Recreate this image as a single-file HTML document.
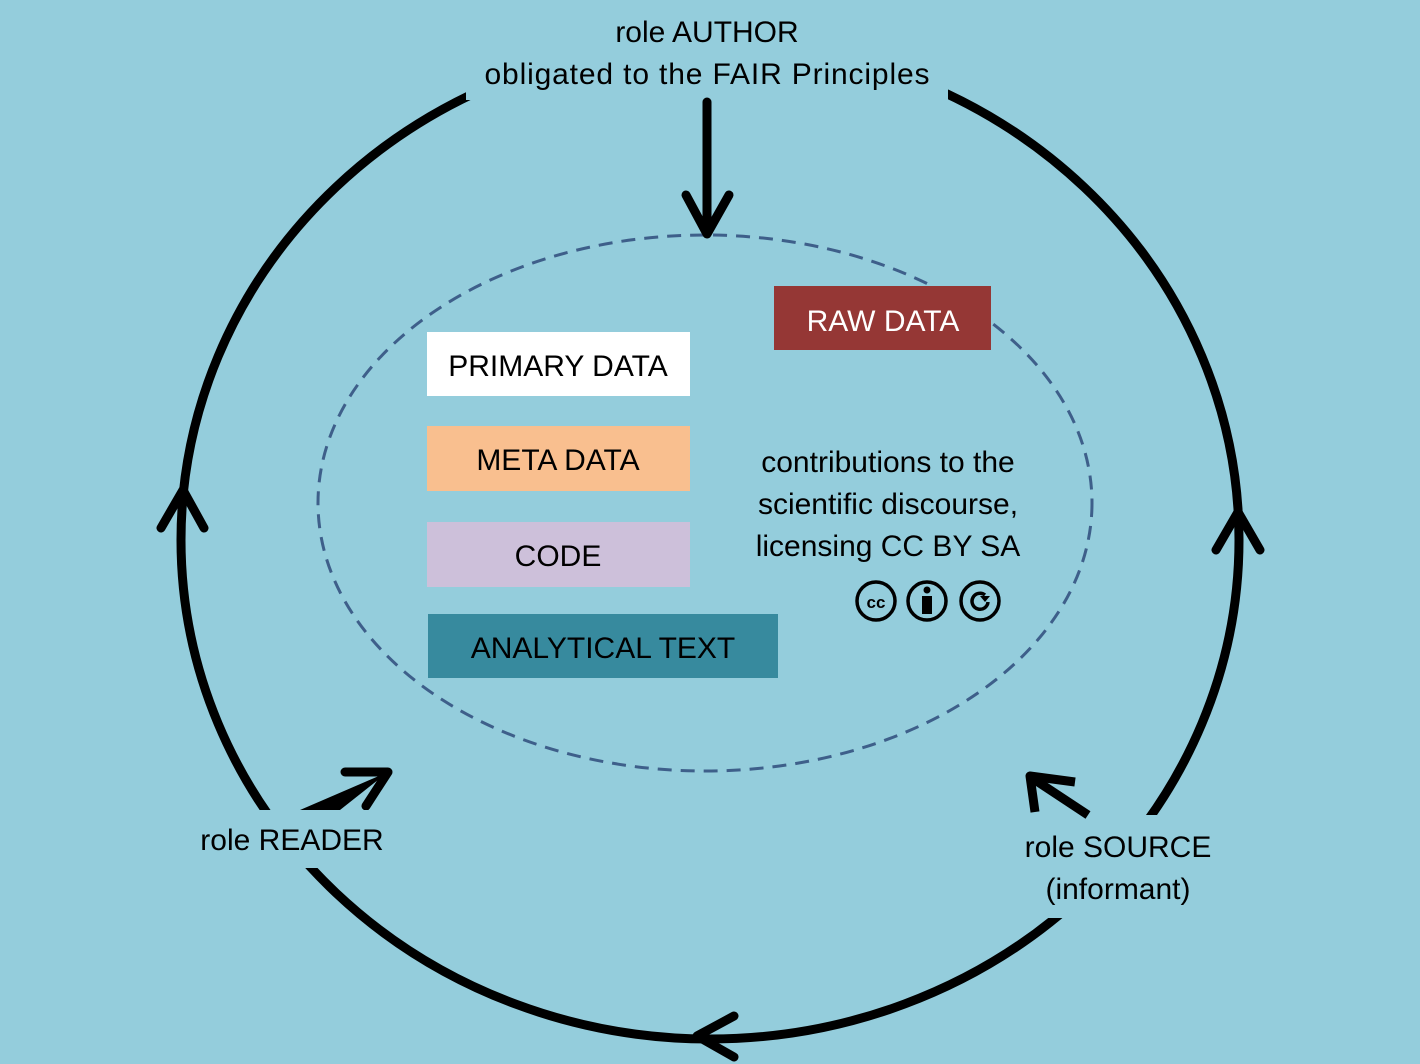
<!DOCTYPE html>
<html><head><style>
html,body{margin:0;padding:0;background:#94CDDC;}
svg{display:block}
text{font-family:"Liberation Sans",sans-serif;font-size:30px;fill:#000}
</style></head><body>
<svg width="1420" height="1064" viewBox="0 0 1420 1064" xmlns="http://www.w3.org/2000/svg">
<rect width="1420" height="1064" fill="#94CDDC"/>
<ellipse cx="710" cy="540" rx="529" ry="499" fill="none" stroke="#000" stroke-width="9"/>
<ellipse cx="705" cy="503" rx="387" ry="268" fill="none" stroke="#3E5F8A" stroke-width="3" stroke-dasharray="14,9"/>
<!-- label masks -->
<rect x="466" y="0" width="482" height="100" fill="#94CDDC"/>
<rect x="195" y="810" width="195" height="58" fill="#94CDDC"/>
<rect x="1020" y="815" width="195" height="103" fill="#94CDDC"/>
<g stroke="#000" stroke-width="9" stroke-linecap="round" stroke-linejoin="round" fill="none">
<line x1="707" y1="102" x2="707" y2="232"/>
<polyline points="686,195 707,234 729,195"/>
<polyline points="161,528 183,490 204,528"/>
<polyline points="1216,550 1238,512 1260,550"/>
<polyline points="734,1016 697,1036 734,1057"/>
<polyline points="1035,812 1030,776 1075,782" stroke-linecap="butt"/>
<line x1="1088" y1="815" x2="1032" y2="778" stroke-linecap="butt"/>
<polyline points="345,772 388,772 366,806"/>
</g>
<polygon points="300,810 388,772 340,810" fill="#000"/>
<rect x="195" y="810" width="195" height="20" fill="#94CDDC"/>
<text x="707" y="42" text-anchor="middle">role AUTHOR</text>
<text x="707" y="84" text-anchor="middle" textLength="445">obligated to the FAIR Principles</text>
<text x="292" y="850" text-anchor="middle">role READER</text>
<text x="1118" y="857" text-anchor="middle">role SOURCE</text>
<text x="1118" y="899" text-anchor="middle">(informant)</text>
<rect x="427" y="332" width="263" height="64" fill="#fff"/>
<text x="558" y="376" text-anchor="middle">PRIMARY DATA</text>
<rect x="427" y="426" width="263" height="65" fill="#F9BF8F"/>
<text x="558" y="470" text-anchor="middle">META DATA</text>
<rect x="427" y="522" width="263" height="65" fill="#CDC0DA"/>
<text x="558" y="566" text-anchor="middle">CODE</text>
<rect x="428" y="614" width="350" height="64" fill="#378A9E"/>
<text x="603" y="658" text-anchor="middle">ANALYTICAL TEXT</text>
<rect x="774" y="286" width="217" height="64" fill="#953735"/>
<text x="883" y="331" text-anchor="middle" style="fill:#fff">RAW DATA</text>
<text x="888" y="472" text-anchor="middle">contributions to the</text>
<text x="888" y="514" text-anchor="middle">scientific discourse,</text>
<text x="888" y="556" text-anchor="middle">licensing CC BY SA</text>
<g stroke="#000" stroke-width="3.5" fill="none">
<circle cx="876" cy="601" r="19"/>
<circle cx="927" cy="601" r="19"/>
<circle cx="980" cy="601" r="19"/>
<path d="M988,602 a8,8 0 1 1 -3,-7"/>
</g>
<text x="876" y="608" text-anchor="middle" style="font-size:17px;font-weight:bold">cc</text>
<circle cx="927" cy="590" r="3.5" fill="#000"/>
<rect x="922" y="596" width="10" height="18" fill="#000"/>
<polygon points="980,596 990,596 985,602" fill="#000"/>
</svg>
</body></html>
